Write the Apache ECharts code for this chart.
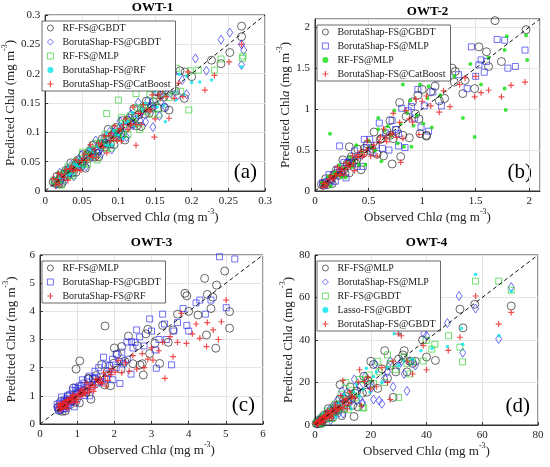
<!DOCTYPE html>
<html>
<head>
<meta charset="utf-8">
<script src="https://cdn.jsdelivr.net/npm/echarts@6/dist/echarts.min.js"></script>
<style>
html, body { margin: 0; padding: 0; background: #fff; }
#main { width: 550px; height: 467px; }
</style>
</head>
<body>
<div id="main"></div>
<script>
// ---- OWT-1 (observed, predicted) ----
var a_rfGbdt = [[0.011,0.015],[0.014,0.013],[0.016,0.025],[0.019,0.012],[0.02,0.019],[0.021,0.022],[0.023,0.013],[0.026,0.029],[0.028,0.035],[0.03,0.026],[0.032,0.036],[0.033,0.032],[0.035,0.048],[0.037,0.031],[0.04,0.043],[0.042,0.032],[0.044,0.041],[0.045,0.053],[0.047,0.047],[0.05,0.046],[0.052,0.062],[0.055,0.039],[0.057,0.062],[0.058,0.055],[0.06,0.066],[0.062,0.06],[0.065,0.078],[0.068,0.058],[0.07,0.071],[0.072,0.068],[0.073,0.058],[0.075,0.08],[0.078,0.089],[0.081,0.075],[0.083,0.082],[0.084,0.088],[0.086,0.105],[0.089,0.08],[0.092,0.096],[0.094,0.079],[0.097,0.108],[0.098,0.094],[0.1,0.1],[0.103,0.097],[0.106,0.12],[0.109,0.087],[0.111,0.108],[0.112,0.12],[0.115,0.124],[0.118,0.115],[0.121,0.14],[0.123,0.126],[0.125,0.111],[0.128,0.13],[0.131,0.11],[0.135,0.142],[0.136,0.131],[0.138,0.153],[0.142,0.133],[0.146,0.144],[0.148,0.152],[0.15,0.177],[0.154,0.141],[0.158,0.164],[0.162,0.16],[0.163,0.142],[0.168,0.184],[0.173,0.173],[0.178,0.17],[0.184,0.205],[0.19,0.158],[0.152,0.169],[0.164,0.18],[0.169,0.138],[0.191,0.203],[0.2,0.195],[0.227,0.223],[0.24,0.217],[0.252,0.236],[0.268,0.263],[0.268,0.281]];
var a_bsGbdt = [[0.012,0.018],[0.015,0.011],[0.017,0.016],[0.018,0.022],[0.02,0.031],[0.022,0.017],[0.025,0.027],[0.027,0.018],[0.029,0.036],[0.03,0.028],[0.032,0.032],[0.034,0.031],[0.036,0.045],[0.039,0.025],[0.041,0.046],[0.044,0.05],[0.046,0.044],[0.047,0.05],[0.049,0.061],[0.051,0.042],[0.054,0.055],[0.056,0.042],[0.059,0.063],[0.061,0.071],[0.063,0.067],[0.064,0.058],[0.066,0.065],[0.069,0.086],[0.072,0.064],[0.074,0.078],[0.076,0.072],[0.077,0.064],[0.08,0.09],[0.082,0.082],[0.085,0.08],[0.088,0.101],[0.09,0.094],[0.091,0.071],[0.093,0.1],[0.096,0.104],[0.099,0.096],[0.102,0.119],[0.104,0.106],[0.105,0.092],[0.108,0.109],[0.111,0.092],[0.114,0.12],[0.117,0.131],[0.118,0.114],[0.12,0.112],[0.123,0.121],[0.127,0.151],[0.13,0.119],[0.132,0.136],[0.133,0.138],[0.137,0.118],[0.14,0.154],[0.144,0.144],[0.145,0.15],[0.148,0.141],[0.152,0.17],[0.156,0.128],[0.158,0.152],[0.161,0.17],[0.166,0.178],[0.171,0.167],[0.172,0.18],[0.176,0.2],[0.181,0.163],[0.187,0.189],[0.193,0.165],[0.129,0.18],[0.147,0.109],[0.164,0.143],[0.169,0.189],[0.205,0.226],[0.22,0.205],[0.24,0.258],[0.252,0.27],[0.268,0.25],[0.271,0.24],[0.268,0.215]];
var a_rfMlp = [[0.012,0.018],[0.015,0.015],[0.017,0.014],[0.02,0.028],[0.022,0.01],[0.024,0.028],[0.027,0.032],[0.029,0.027],[0.031,0.041],[0.034,0.026],[0.036,0.037],[0.038,0.026],[0.041,0.045],[0.043,0.051],[0.046,0.041],[0.048,0.047],[0.051,0.066],[0.053,0.046],[0.056,0.059],[0.058,0.046],[0.061,0.07],[0.063,0.063],[0.066,0.061],[0.069,0.081],[0.071,0.053],[0.074,0.08],[0.076,0.083],[0.079,0.077],[0.082,0.097],[0.084,0.073],[0.087,0.088],[0.09,0.073],[0.093,0.098],[0.095,0.107],[0.098,0.091],[0.101,0.1],[0.104,0.125],[0.107,0.097],[0.11,0.114],[0.113,0.096],[0.116,0.128],[0.119,0.119],[0.122,0.116],[0.126,0.142],[0.129,0.105],[0.132,0.14],[0.136,0.146],[0.139,0.136],[0.143,0.164],[0.147,0.131],[0.151,0.153],[0.155,0.131],[0.159,0.166],[0.164,0.181],[0.169,0.159],[0.174,0.172],[0.179,0.209],[0.185,0.17],[0.084,0.132],[0.1,0.155],[0.124,0.166],[0.151,0.189],[0.196,0.138],[0.198,0.205],[0.209,0.206],[0.231,0.206],[0.24,0.225],[0.269,0.226],[0.27,0.23]];
var a_bsRf = [[0.013,0.008],[0.016,0.017],[0.018,0.01],[0.021,0.023],[0.023,0.029],[0.026,0.023],[0.028,0.027],[0.031,0.041],[0.033,0.028],[0.036,0.038],[0.038,0.03],[0.041,0.047],[0.043,0.043],[0.046,0.043],[0.048,0.056],[0.051,0.039],[0.053,0.057],[0.056,0.061],[0.059,0.057],[0.061,0.071],[0.064,0.056],[0.066,0.067],[0.069,0.057],[0.072,0.076],[0.074,0.083],[0.077,0.072],[0.08,0.079],[0.083,0.098],[0.085,0.078],[0.088,0.091],[0.091,0.079],[0.094,0.103],[0.097,0.097],[0.1,0.096],[0.103,0.114],[0.106,0.089],[0.109,0.115],[0.112,0.119],[0.116,0.114],[0.119,0.134],[0.122,0.111],[0.126,0.128],[0.13,0.113],[0.133,0.138],[0.137,0.149],[0.141,0.134],[0.145,0.143],[0.149,0.17],[0.153,0.143],[0.157,0.161],[0.162,0.145],[0.167,0.179],[0.172,0.172],[0.177,0.171],[0.183,0.199],[0.189,0.164],[0.164,0.118],[0.178,0.155],[0.193,0.196],[0.2,0.185],[0.211,0.186],[0.227,0.189],[0.268,0.212]];
var a_bsCat = [[0.011,0.021],[0.014,0.009],[0.016,0.015],[0.017,0.019],[0.019,0.011],[0.022,0.028],[0.024,0.024],[0.026,0.023],[0.027,0.029],[0.029,0.037],[0.031,0.018],[0.034,0.038],[0.036,0.041],[0.038,0.034],[0.039,0.037],[0.042,0.053],[0.044,0.035],[0.047,0.048],[0.049,0.036],[0.05,0.052],[0.052,0.056],[0.054,0.063],[0.057,0.052],[0.06,0.059],[0.062,0.079],[0.063,0.061],[0.065,0.057],[0.067,0.07],[0.07,0.057],[0.073,0.082],[0.076,0.076],[0.077,0.08],[0.079,0.074],[0.081,0.094],[0.084,0.065],[0.087,0.094],[0.089,0.086],[0.09,0.098],[0.093,0.09],[0.095,0.111],[0.098,0.086],[0.101,0.102],[0.103,0.106],[0.104,0.085],[0.107,0.113],[0.11,0.123],[0.113,0.105],[0.116,0.112],[0.117,0.115],[0.12,0.143],[0.124,0.113],[0.127,0.132],[0.13,0.132],[0.131,0.113],[0.134,0.147],[0.138,0.138],[0.142,0.135],[0.144,0.14],[0.146,0.164],[0.15,0.123],[0.155,0.164],[0.157,0.158],[0.16,0.171],[0.165,0.161],[0.17,0.194],[0.176,0.158],[0.182,0.184],[0.188,0.161],[0.195,0.203],[0.018,0.03],[0.124,0.078],[0.149,0.092],[0.169,0.124],[0.218,0.172],[0.231,0.197],[0.251,0.22],[0.268,0.25]];

// ---- OWT-2 ----
var b_bsGbdt = [[0.06,0.08],[0.08,0.07],[0.09,0.1],[0.1,0.15],[0.12,0.08],[0.14,0.15],[0.15,0.14],[0.16,0.09],[0.18,0.2],[0.2,0.26],[0.21,0.22],[0.22,0.19],[0.24,0.23],[0.26,0.38],[0.27,0.26],[0.28,0.22],[0.3,0.33],[0.32,0.22],[0.33,0.34],[0.34,0.42],[0.36,0.36],[0.38,0.34],[0.39,0.38],[0.4,0.51],[0.43,0.26],[0.45,0.46],[0.46,0.52],[0.49,0.57],[0.52,0.49],[0.53,0.52],[0.55,0.72],[0.58,0.45],[0.61,0.63],[0.62,0.64],[0.64,0.43],[0.67,0.74],[0.7,0.86],[0.7,0.68],[0.73,0.64],[0.76,0.74],[0.79,1.08],[0.82,0.68],[0.85,0.91],[0.88,0.65],[0.91,1.09],[0.94,0.94],[0.97,0.88],[1.0,1.24],[1.04,0.67],[1.08,1.21],[1.12,1.28],[1.16,1.1],[1.2,1.48],[0.32,0.54],[0.72,0.33],[0.8,0.42],[0.96,1.17],[0.98,0.7],[1.04,0.68],[1.21,1.13],[1.28,1.5],[1.3,1.33],[1.31,1.46],[1.38,1.19],[1.4,1.35],[1.49,1.25],[1.53,1.76],[1.6,1.7],[1.62,1.52],[1.68,2.08],[1.74,1.58],[1.97,1.97]];
var b_bsMlp = [[0.07,0.1],[0.09,0.07],[0.11,0.11],[0.13,0.2],[0.15,0.11],[0.17,0.19],[0.19,0.12],[0.21,0.26],[0.23,0.23],[0.25,0.22],[0.27,0.35],[0.29,0.16],[0.31,0.35],[0.33,0.39],[0.35,0.33],[0.37,0.49],[0.39,0.3],[0.42,0.43],[0.45,0.3],[0.48,0.53],[0.51,0.63],[0.54,0.47],[0.57,0.56],[0.6,0.83],[0.63,0.52],[0.66,0.71],[0.69,0.5],[0.72,0.86],[0.75,0.75],[0.78,0.7],[0.81,1.01],[0.84,0.53],[0.87,0.98],[0.9,1.03],[0.93,0.89],[0.96,1.24],[0.99,0.78],[1.02,1.04],[1.06,0.73],[1.1,1.21],[1.14,1.38],[1.18,1.04],[0.23,0.55],[0.46,0.63],[0.78,0.55],[1.24,1.4],[1.34,1.42],[1.42,1.25],[1.46,1.76],[1.5,1.4],[1.53,1.54],[1.55,1.6],[1.58,1.45],[1.6,1.58],[1.7,1.85],[1.77,1.84],[1.8,1.5],[1.87,1.52],[1.96,1.72]];
var b_rfMlp = [[0.065,0.095],[0.085,0.085],[0.105,0.086],[0.125,0.178],[0.145,0.059],[0.165,0.196],[0.185,0.225],[0.205,0.191],[0.225,0.317],[0.245,0.172],[0.265,0.274],[0.285,0.166],[0.305,0.343],[0.325,0.416],[0.345,0.292],[0.365,0.354],[0.385,0.558],[0.41,0.325],[0.44,0.479],[0.47,0.321],[0.5,0.614],[0.53,0.53],[0.56,0.497],[0.59,0.755],[0.62,0.363],[0.65,0.74],[0.68,0.792],[0.71,0.671],[0.74,0.982],[0.77,0.583],[0.8,0.822],[0.83,0.54],[0.86,0.952],[0.89,1.104],[0.92,0.798],[0.95,0.925],[0.98,1.3],[1.01,0.824],[1.05,1.133],[1.09,0.775],[1.13,1.367],[1.17,1.17],[0.14,0.7],[0.59,0.89],[0.82,1.3],[0.9,0.54],[1.06,1.28],[1.3,1.4],[1.38,0.89],[1.45,1.55],[1.49,0.66],[1.55,1.3],[1.62,1.63],[1.77,1.72],[1.77,1.25],[1.78,0.99],[1.79,1.89],[1.97,1.9],[1.98,1.6]];
var b_bsCat = [[0.07,0.045],[0.08,0.09],[0.09,0.093],[0.11,0.064],[0.12,0.11],[0.13,0.146],[0.15,0.188],[0.16,0.16],[0.17,0.147],[0.19,0.185],[0.2,0.21],[0.21,0.289],[0.23,0.19],[0.24,0.24],[0.25,0.268],[0.27,0.2],[0.28,0.27],[0.29,0.344],[0.31,0.31],[0.32,0.33],[0.33,0.3],[0.35,0.428],[0.36,0.34],[0.37,0.249],[0.4,0.443],[0.4,0.41],[0.43,0.485],[0.44,0.42],[0.46,0.441],[0.48,0.5],[0.49,0.613],[0.52,0.424],[0.54,0.52],[0.55,0.561],[0.58,0.426],[0.6,0.6],[0.61,0.659],[0.64,0.756],[0.66,0.65],[0.67,0.603],[0.7,0.686],[0.72,0.7],[0.73,0.947],[0.76,0.655],[0.79,0.837],[0.82,0.644],[0.85,0.982],[0.88,0.88],[0.91,0.84],[0.94,1.122],[0.97,0.69],[1.0,1.096],[1.04,1.16],[1.08,1.039],[1.12,1.375],[1.16,0.962],[1.2,1.223],[0.8,0.35],[1.26,1.03],[1.35,1.3],[1.4,1.38],[1.49,1.15],[1.5,1.4],[1.55,1.2],[1.62,1.23],[1.74,1.15],[1.83,1.29],[1.96,1.33]];

// ---- OWT-3 ----
var c_rfMlp = [[0.48,0.59],[0.52,0.48],[0.56,0.8],[0.6,0.45],[0.64,0.66],[0.68,0.46],[0.72,0.81],[0.76,0.97],[0.8,0.68],[0.85,0.83],[0.9,1.28],[0.95,0.77],[1.0,1.08],[1.06,0.75],[1.12,1.35],[1.18,1.18],[1.24,1.12],[1.3,1.62],[1.37,0.88],[1.44,1.61],[1.51,1.72],[1.58,1.51],[1.66,2.11],[1.74,1.39],[1.82,1.86],[1.9,1.36],[1.99,2.16],[2.08,2.48],[2.18,1.95],[2.28,2.23],[2.38,3.12],[2.5,2.14],[2.62,2.78],[2.75,2.14],[2.9,3.36],[0.97,1.95],[1.07,2.24],[1.3,1.6],[1.75,3.48],[2.0,2.7],[2.2,2.75],[2.69,2.1],[2.78,1.74],[2.85,3.2],[2.95,2.5],[3.09,2.86],[3.22,2.15],[3.3,3.5],[3.45,2.9],[3.58,3.34],[3.7,3.9],[3.9,4.64],[3.95,4.55],[4.0,4.0],[4.25,3.87],[4.43,5.17],[4.48,3.16],[4.5,4.6],[4.6,4.1],[4.65,4.5],[4.73,2.69],[4.75,4.93],[4.97,5.43],[5.1,3.99],[5.1,3.4]];
var c_bsGbdt = [[0.46,0.7],[0.48,0.58],[0.5,0.49],[0.52,0.72],[0.54,0.6],[0.56,0.5],[0.58,0.96],[0.6,0.62],[0.62,0.55],[0.64,0.85],[0.66,0.8],[0.68,0.62],[0.7,0.54],[0.72,0.9],[0.74,1.0],[0.76,0.7],[0.78,0.86],[0.8,1.05],[0.82,0.8],[0.85,0.78],[0.87,1.2],[0.9,1.0],[0.92,0.61],[0.95,1.3],[0.97,1.18],[1.0,0.9],[1.02,1.26],[1.05,1.35],[1.08,1.1],[1.12,1.2],[1.14,1.57],[1.18,1.45],[1.2,1.01],[1.25,1.3],[1.27,1.38],[1.32,1.7],[1.34,1.0],[1.4,1.35],[1.41,1.62],[1.48,1.87],[1.5,1.6],[1.55,1.45],[1.58,2.0],[1.63,1.67],[1.67,1.5],[1.71,2.37],[1.76,2.1],[1.79,1.59],[1.85,1.8],[1.87,2.07],[1.95,2.3],[1.96,1.57],[2.05,2.48],[2.05,2.0],[2.14,2.22],[2.2,2.55],[2.24,2.13],[2.34,2.91],[2.35,2.3],[2.45,1.77],[2.5,2.7],[2.56,2.9],[2.68,3.09],[2.8,2.77],[2.95,3.73],[3.1,2.63],[2.15,1.44],[2.46,2.92],[2.6,3.34],[3.0,3.3],[3.13,1.98],[3.2,3.0],[3.3,3.9],[3.35,3.55],[3.4,3.0],[3.54,2.1],[3.6,3.3],[3.7,3.6],[3.85,4.1],[3.95,3.5],[4.0,3.3],[4.2,4.3],[4.3,4.4],[4.45,3.9],[4.6,4.4],[4.83,5.94],[5.01,4.13],[5.24,5.86]];
var c_bsRf = [[0.5,0.68],[0.51,0.58],[0.53,0.52],[0.55,0.7],[0.56,0.61],[0.57,0.55],[0.59,0.53],[0.6,0.74],[0.62,0.72],[0.63,0.62],[0.65,0.66],[0.67,0.78],[0.68,0.63],[0.7,0.7],[0.71,0.83],[0.72,0.62],[0.74,0.55],[0.75,0.86],[0.77,0.83],[0.79,0.76],[0.8,0.87],[0.82,0.95],[0.84,0.8],[0.85,0.86],[0.88,1.03],[0.9,0.9],[0.92,0.77],[0.93,1.0],[0.96,0.95],[0.98,0.88],[1.0,0.78],[1.02,1.05],[1.05,1.08],[1.08,0.98],[1.1,1.2],[1.12,1.12],[1.15,1.02],[1.18,1.24],[1.2,1.13],[1.23,1.08],[1.26,1.46],[1.3,1.3],[1.32,1.13],[1.35,1.22],[1.38,1.37],[1.42,1.4],[1.44,1.16],[1.48,1.3],[1.5,1.58],[1.55,1.55],[1.57,1.48],[1.62,1.6],[1.64,1.46],[1.68,1.45],[1.71,1.82],[1.75,1.7],[1.78,1.34],[1.82,1.55],[1.86,1.86],[1.9,1.75],[1.94,1.96],[2.02,1.84],[2.11,2.26],[2.2,1.82],[2.3,2.17],[2.4,1.87],[2.5,2.43],[2.6,1.95],[2.75,2.5],[2.8,2.0],[2.9,2.3],[3.0,2.7],[3.04,2.27],[3.2,2.6],[3.3,2.9],[3.36,1.62],[3.5,3.1],[3.58,2.39],[3.7,2.9],[3.8,3.93],[3.94,2.86],[4.1,3.2],[4.2,3.55],[4.3,3.04],[4.48,2.75],[4.5,3.6],[4.66,3.34],[4.8,3.0],[4.88,3.63],[5.01,4.4]];

// ---- OWT-4 ----
var d_rfMlp = [[0.4,0.75],[0.8,0.66],[1,1.3],[1.2,2.19],[1.6,0.74],[2,2.11],[2.4,0.83],[2.6,2.2],[2.8,3.33],[3.3,4.64],[3.8,2.98],[4.3,4.12],[4.5,5.2],[4.8,7.74],[5.3,3.81],[5.8,6.48],[6.4,3.69],[6.5,6],[7,9.12],[7.6,7.6],[8.2,6.99],[8.5,9.5],[8.9,12.16],[9.6,4.39],[10.3,12.15],[10.5,10],[11,13.35],[11.8,10.97],[12.6,17.9],[13,12],[13.5,9.26],[14.4,14.9],[15,16],[15.4,8.51],[16.4,18.65],[17,15],[17.5,22.87],[18.6,15.45],[19,21],[19.8,19.13],[21,28.5],[22.5,17.22],[24,26.4],[9,19],[14,4],[20,30],[25,35],[26,22],[27,28],[28,13],[29,25],[30,31],[31.5,33],[32,35],[33,25],[34,30],[35,29],[36,30],[38.6,40],[40,32],[43.2,30.4],[52,54.5],[53.1,45.7],[57.3,56.8],[70.4,56]];
var d_bsMlp = [[0.5,1.05],[0.9,0.53],[1.3,1.21],[1.8,3.33],[2.2,1.4],[2.7,3.09],[3.1,1.53],[3.6,4.87],[4.1,4.1],[4.6,3.84],[5.1,7.16],[5.6,2.28],[6.2,7.4],[6.8,8.36],[7.4,6.84],[8,11.56],[8.7,5.82],[9.4,9.74],[10.1,5.37],[10.8,12.34],[11.6,15.29],[12.4,10.22],[13.2,12.74],[14.1,21.44],[15,11.38],[16,17.65],[17,10.61],[18,22.9],[19.1,19.1],[20.3,17.56],[21.5,28.73],[23,11.5],[9.6,16],[17,10],[21,12],[24,10],[25,22],[26,25],[27,30],[28,18],[30,28],[31,30],[32,24],[33,16],[34,30],[36,28],[39,43],[40,42],[42,50],[43.4,51.9],[47.5,48],[51.7,60.7],[53,34],[57.6,54.8],[65.9,40.5],[70.4,64.9]];
var d_rfGbdt = [[0.6,1.11],[1,1],[1.5,1.13],[1.9,2.95],[2.4,0.59],[2.9,3.58],[3.4,4.31],[3.9,3.56],[4.4,6.6],[4.9,3.1],[5.5,5.72],[6.1,3.01],[6.7,7.73],[7.3,9.78],[8,6.51],[8.7,8.38],[9.4,14.52],[10.2,7.64],[11,12.17],[11.9,7.28],[12.8,16.39],[13.8,13.8],[14.8,12.76],[15.9,21.36],[17,8.29],[18.2,21.29],[19.5,23.46],[21,19.59],[22.5,30],[11,20],[17.5,8],[23,25],[25,20],[26,33],[27,29],[28.9,26.1],[30,13],[32,32],[33,29],[34,24],[35,30],[38.8,30.1],[39.9,39.8],[41.9,35.7],[43,38],[47.9,42],[52,36.6],[52.9,29.7],[57.6,67.7],[65.9,67.7],[70.4,63.4]];
var d_lassoGbdt = [[0.4,0.25],[0.7,0.76],[1.1,0.3],[1.4,1.72],[1.8,2.61],[2.2,1.69],[2.6,2.49],[3,4.86],[3.5,2.53],[4,4.46],[4.5,2.67],[5,6.44],[5.6,5.6],[6.2,5.35],[6.8,9.1],[7.4,3.69],[8.1,9.44],[8.8,10.52],[9.5,8.89],[10.3,14.25],[11.1,7.94],[12,12.38],[12.9,7.68],[13.9,15.62],[14.9,19.02],[16,13.56],[17.2,16.68],[18.4,26.73],[19.7,15.56],[21,22.88],[22,25],[24,20],[26,27],[28.4,42.9],[30,28],[30.4,42.9],[32,30],[35,31],[38,35],[40.6,50.6],[42,36],[47.5,37],[52.5,45.5],[53,38],[57.6,70.8],[66,42],[70.4,63]];
var d_bsGbdt = [[0.3,1.03],[0.5,0.8],[0.6,0.25],[0.8,1.4],[0.9,1.1],[1.1,0.8],[1.2,0.39],[1.4,1.6],[1.5,2.16],[1.7,2.4],[1.8,1.8],[2,1.4],[2.1,1.7],[2.3,2.8],[2.5,3.6],[2.7,2.3],[2.9,1.08],[3.1,3.1],[3.3,3.96],[3.5,2.6],[3.7,4.56],[3.9,4.8],[4.1,3.79],[4.3,3.3],[4.6,6.63],[4.8,5.2],[5.1,3.45],[5.3,4.6],[5.6,5.8],[5.8,6.8],[6.1,3.35],[6.3,5.2],[6.7,7.61],[6.9,6.4],[7.3,9.5],[7.5,8.4],[7.9,6.59],[8.2,7.5],[8.6,8.32],[9,8.4],[9.3,13.81],[9.8,10.8],[10,7.76],[10.6,9.4],[10.8,11.83],[11.4,12.4],[11.6,7.59],[12.2,10.5],[12.5,15.62],[13,13.2],[13.4,13.4],[14.4,12.63],[15.5,20.24],[16.6,9.03],[17.8,20.49],[19,22.43],[10,21],[16,26],[20,17],[22,18],[24,27],[26,20],[27,12],[28,30],[29.9,42.9],[31,42],[33,30],[35,24],[38.8,37.4],[40,26],[43,46.7],[47.8,35.1],[52,41.3],[57.6,60.7],[65.9,47.5],[70.4,53]];

// panel titles and axis ranges
var panelTitles = ['OWT-1', 'OWT-2', 'OWT-3', 'OWT-4'];
var panelTags = ['(a)', '(b)', '(c)', '(d)'];
var axisMax = [0.3, 2.1, 6, 80];
var axisStep = [0.05, 0.5, 1, 20];

var serif = '"Liberation Serif", "Times New Roman", serif';
var grids = [
    { left: 40, top: 15, width: 225, height: 176 },
    { left: 315, top: 19, width: 225, height: 172 },
    { left: 40, top: 255, width: 223, height: 169 },
    { left: 315, top: 255, width: 223, height: 170 }
];

var PLUS = 'path://M4,0H6V4H10V6H6V10H4V6H0V4H4Z';
var styles = {
    circle:  { symbol: 'circle', symbolSize: 8, itemStyle: { color: 'rgba(0,0,0,0)', borderColor: '#111', borderWidth: 0.8 } },
    diamond: { symbol: 'diamond', symbolSize: [6, 9], itemStyle: { color: 'rgba(0,0,0,0)', borderColor: '#2222ee', borderWidth: 0.8 } },
    square:  { symbol: 'rect', symbolSize: 6, itemStyle: { color: 'rgba(0,0,0,0)', borderColor: '#22cc22', borderWidth: 0.8 } },
    bsquare: { symbol: 'rect', symbolSize: 6, itemStyle: { color: 'rgba(0,0,0,0)', borderColor: '#2222ee', borderWidth: 0.8 } },
    cyan:    { symbol: 'circle', symbolSize: 3.5, itemStyle: { color: '#00e5ee' } },
    gdot:    { symbol: 'circle', symbolSize: 4, itemStyle: { color: '#11dd11' } },
    plus:    { symbol: PLUS, symbolSize: 6, itemStyle: { color: '#ee2222' } }
};

var panels = [
    [['RF-FS@GBDT', a_rfGbdt, 'circle'], ['BorutaShap-FS@GBDT', a_bsGbdt, 'diamond'], ['RF-FS@MLP', a_rfMlp, 'square'], ['BorutaShap-FS@RF', a_bsRf, 'cyan'], ['BorutaShap-FS@CatBoost', a_bsCat, 'plus']],
    [['BorutaShap-FS@GBDT', b_bsGbdt, 'circle'], ['BorutaShap-FS@MLP', b_bsMlp, 'bsquare'], ['RF-FS@MLP', b_rfMlp, 'gdot'], ['BorutaShap-FS@CatBoost', b_bsCat, 'plus']],
    [['RF-FS@MLP', c_rfMlp, 'circle'], ['BorutaShap-FS@GBDT', c_bsGbdt, 'bsquare'], ['BorutaShap-FS@RF', c_bsRf, 'plus']],
    [['RF-FS@MLP', d_rfMlp, 'circle'], ['BorutaShap-FS@MLP', d_bsMlp, 'diamond'], ['RF-FS@GBDT', d_rfGbdt, 'square'], ['Lasso-FS@GBDT', d_lassoGbdt, 'cyan'], ['BorutaShap-FS@GBDT', d_bsGbdt, 'plus']]
];

var nameRich = {
    n: { fontFamily: serif, fontSize: 13, color: '#222', lineHeight: 16, verticalAlign: 'bottom' },
    i: { fontFamily: serif, fontSize: 13, color: '#222', fontStyle: 'italic', lineHeight: 16, verticalAlign: 'bottom' },
    s: { fontFamily: serif, fontSize: 8, color: '#222', lineHeight: 16, verticalAlign: 'top' }
};

var xAxes = [], yAxes = [], series = [], legends = [], graphics = [];
var keys = ['a', 'b', 'c', 'd'];

panels.forEach(function (list, p) {
    var common = {
        gridIndex: p,
        type: 'value',
        min: 0,
        max: axisMax[p],
        interval: axisStep[p],
        nameLocation: 'middle',
        axisLine: { lineStyle: { color: '#333', width: 1 } },
        axisTick: { inside: true, length: 3, lineStyle: { color: '#333' } },
        splitLine: { lineStyle: { color: '#e4e4e4', width: 1 } },
        axisLabel: { fontFamily: serif, fontSize: 11, color: '#222', margin: 5, showMaxLabel: p !== 1 },
        nameTextStyle: { rich: nameRich }
    };
    xAxes.push(Object.assign({}, common, {
        name: '{n|Observed Chl}{i|a}{n| (mg m}{s|-3}{n|)}',
        nameGap: 16
    }));
    yAxes.push(Object.assign({}, common, {
        name: '{n|Predicted Chl}{i|a}{n| (mg m}{s|-3}{n|)}',
        nameGap: p === 3 ? 18 : 22
    }));

    var names = [];
    list.forEach(function (s) {
        var st = styles[s[2]];
        var name = keys[p] + '|' + s[0];
        names.push(name);
        series.push({
            type: 'scatter',
            name: name,
            xAxisIndex: p,
            yAxisIndex: p,
            data: s[1],
            symbol: st.symbol,
            symbolSize: st.symbolSize,
            itemStyle: st.itemStyle,
            silent: true,
            animation: false
        });
    });

    // 1:1 line
    series.push({
        type: 'line',
        xAxisIndex: p,
        yAxisIndex: p,
        data: [[0, 0], [axisMax[p], axisMax[p]]],
        symbol: 'none',
        lineStyle: { color: '#111', width: 1, type: [4, 3] },
        z: 5,
        silent: true,
        animation: false
    });

    var g = grids[p];
    legends.push({
        data: names,
        orient: 'vertical',
        left: g.left + 2,
        top: g.top + 6,
        itemWidth: 6,
        itemHeight: 6,
        itemGap: 4,
        padding: [2, 5, 2, 5],
        backgroundColor: '#fff',
        borderColor: '#444',
        borderWidth: 0.8,
        borderRadius: 0,
        selectedMode: false,
        itemStyle: { borderWidth: 0.8 },
        textStyle: { fontFamily: serif, fontSize: 10, color: '#222', lineHeight: 8, padding: [0, 0, 0, 4] },
        formatter: function (n) { return n.split('|')[1]; }
    });

    graphics.push({
        type: 'text',
        x: g.left + g.width / 2,
        y: g.top - (p < 2 ? 14 : 19),
        style: { text: panelTitles[p], font: 'bold 13px ' + serif, fill: '#000', textAlign: 'center' }
    });
    graphics.push({
        type: 'text',
        x: g.left + g.width - 8,
        y: g.top + g.height - 29,
        style: { text: panelTags[p], font: '21px ' + serif, fill: '#000', textAlign: 'right' }
    });
});

var chart = echarts.init(document.getElementById('main'), null, { renderer: 'canvas' });
chart.setOption({
    backgroundColor: '#fff',
    animation: false,
    grid: grids.map(function (g) {
        return Object.assign({ show: true, borderColor: '#333', borderWidth: 1, backgroundColor: '#fff' }, g);
    }),
    xAxis: xAxes,
    yAxis: yAxes,
    legend: legends,
    series: series,
    graphic: graphics
});
</script>
</body>
</html>
